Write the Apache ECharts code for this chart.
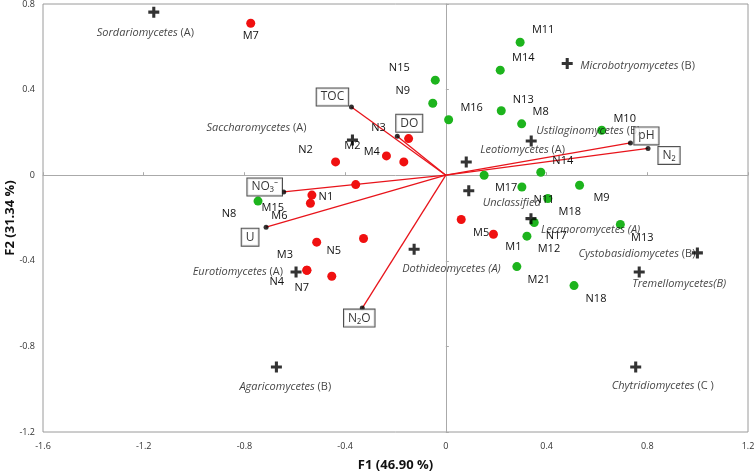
<!DOCTYPE html>
<html>
<head>
<meta charset="utf-8">
<script src="https://cdn.jsdelivr.net/npm/echarts@6/dist/echarts.min.js"></script>
<style>
  html, body { margin: 0; padding: 0; background: #fff; }
  #chart { width: 754px; height: 473px; }
</style>
</head>
<body>
<div id="chart"></div>
<script>
// samples (observations) - red group
const redNames = ['M7', 'N2', 'N3', 'M2', 'M4', 'M15', 'N1', 'M6', 'N5', '', 'M3', 'N4', 'N7', 'M5', 'M1']
const redF1 = [-0.775, -0.438, -0.148, -0.236, -0.167, -0.358, -0.532, -0.538, -0.513, -0.327, -0.552, -0.552, -0.453, 0.061, 0.189]
const redF2 = [0.710, 0.062, 0.171, 0.090, 0.062, -0.044, -0.093, -0.131, -0.313, -0.296, -0.444, -0.444, -0.472, -0.207, -0.276]

// samples - green group
const greenNames = ['N8', 'N15', 'N9', 'M16', 'M11', 'M14', 'N13', 'M8', 'M10', 'M17', 'N14', 'N11', 'M9', 'M18', 'N17', 'M13', 'M12', 'M21', 'N18']
const greenF1 = [-0.746, -0.042, -0.052, 0.011, 0.295, 0.216, 0.220, 0.301, 0.619, 0.152, 0.377, 0.302, 0.531, 0.405, 0.351, 0.693, 0.322, 0.282, 0.509]
const greenF2 = [-0.121, 0.444, 0.336, 0.259, 0.621, 0.491, 0.301, 0.240, 0.210, 0.000, 0.014, -0.055, -0.047, -0.109, -0.221, -0.230, -0.285, -0.427, -0.516]

// fungal classes (supplementary)
const taxaNames = ['Sordariomycetes|(A)', 'Saccharomycetes|(A)', 'Microbotryomycetes|(B)', 'Ustilaginomycetes|(B)',
  'Leotiomycetes|(A)', 'Unclassified|', 'Lecanoromycetes (A)|', 'Dothideomycetes (A)|', 'Cystobasidiomycetes|(B)',
  'Tremellomycetes(B)|', 'Chytridiomycetes|(C )', 'Agaricomycetes|(B)', 'Eurotiomycetes|(A)']
const taxaF1 = [-1.160, -0.371, 0.482, 0.339, 0.081, 0.091, 0.338, -0.126, 0.999, 0.768, 0.754, -0.673, -0.595]
const taxaF2 = [0.762, 0.164, 0.522, 0.160, 0.062, -0.073, -0.203, -0.346, -0.363, -0.452, -0.896, -0.896, -0.452]

// environmental variables (vectors)
const varNames = ['TOC', 'DO', 'pH', 'N₂', 'NO₃⁻', 'U', 'N₂O']
const varF1 = [-0.375, -0.193, 0.733, 0.803, -0.644, -0.714, -0.332]
const varF2 = [0.319, 0.182, 0.151, 0.125, -0.078, -0.243, -0.621]

// label placement (pixels from the point)
const sampleLabelOffset = {
  M7: [0, 13], N2: [-30, -12], N3: [-30, -11], M2: [-34, -10], M4: [-32, -10], M15: [-83, 23],
  N1: [14, 2], M6: [-31, 13], N5: [17, 9], M3: [-22, -15], N4: [-30, 12], N7: [-30, 12],
  M5: [20, 13], M1: [20, 13],
  N8: [-29, 13], N15: [-36, -12], N9: [-30, -12], M16: [23, -12], M11: [23, -12], M14: [23, -12],
  N13: [22, -11], M8: [19, -12], M10: [23, -11], N14: [22, -11]
}
const taxaLabelOffset = [[-57, 21], [-146, -12], [13, 2], [5, -10], [14, -12], [14, 12], [10, 11],
  [-12, 20], [-2, 1, 'right'], [-7, 12], [-24, 19], [-37, 20], [-13, 0, 'right']]
const varLabelOffset = [[-19, -10], [12, -13], [16, -7], [21, 7], [-19, -5], [-16, 10], [-3, 10]]

const FONT = '"Open Sans", "Noto Sans", sans-serif'
const chart = echarts.init(document.getElementById('chart'))

const sampleSeries = (names, f1, f2, color) => ({
  type: 'scatter',
  symbolSize: 9,
  itemStyle: { color, opacity: 1 },
  z: 3,
  data: names.map((n, i) => {
    const off = sampleLabelOffset[n] || [22, 13]
    return {
      value: [f1[i], f2[i]],
      label: { show: n !== '', position: 'inside', offset: off, formatter: n }
    }
  }),
  label: { color: '#111', fontSize: 11, fontFamily: FONT }
})

const plus = 'path://M3.6,0h2.8v3.6h3.6v2.8h-3.6v3.6h-2.8v-3.6h-3.6v-2.8h3.6z'

const series = []
varNames.forEach((n, i) => {
  series.push({
    type: 'line',
    symbol: 'none',
    silent: true,
    lineStyle: { color: '#e8141b', width: 1.3 },
    z: 1,
    data: [[0, 0], [varF1[i], varF2[i]]]
  })
})
series.push(sampleSeries(redNames, redF1, redF2, '#f01010'))
series.push(sampleSeries(greenNames, greenF1, greenF2, '#1db41d'))
series.push({
  type: 'scatter',
  symbol: plus,
  symbolSize: 11,
  itemStyle: { color: '#000' },
  z: 4,
  data: taxaNames.map((n, i) => {
    const o = taxaLabelOffset[i]
    const [it, nm] = n.split('|')
    return {
      value: [taxaF1[i], taxaF2[i]],
      label: {
        show: true, position: 'inside', align: o[2] || 'left', offset: [o[0], o[1]],
        formatter: nm ? `{i|${it}} {n|${nm}}` : `{i|${it}}`
      }
    }
  }),
  label: {
    fontFamily: FONT, fontSize: 11, color: '#111',
    rich: {
      i: { fontStyle: 'italic', fontFamily: FONT, fontSize: 11, color: '#111' },
      n: { fontFamily: FONT, fontSize: 11, color: '#111' }
    }
  }
})
series.push({
  type: 'scatter',
  symbolSize: 5,
  itemStyle: { color: '#000' },
  z: 5,
  data: varNames.map((n, i) => ({
    value: [varF1[i], varF2[i]],
    label: { show: true, position: 'inside', offset: varLabelOffset[i], formatter: n }
  })),
  label: {
    fontFamily: FONT, fontSize: 12, color: '#000',
    backgroundColor: '#fff', borderColor: '#222', borderWidth: 1, padding: [3, 4, 2, 4]
  }
})

const fmt = v => String(+v.toFixed(1))

chart.setOption({
  animation: false,
  grid: {
    left: 43, right: 6, top: 4, bottom: 41, show: true, borderColor: '#9a9a9a', borderWidth: 1,
    containLabel: false, outerBoundsMode: 'none'
  },
  xAxis: [
    {
      type: 'value', min: -1.6, max: 1.2, interval: 0.4,
      name: 'F1 (46.90 %)', nameLocation: 'middle', nameGap: 27, nameMoveOverlap: false,
      nameTextStyle: { fontFamily: FONT, fontWeight: 'bold', fontSize: 13, color: '#111' },
      axisLine: { show: false, onZero: false }, axisTick: { show: false }, splitLine: { show: false },
      axisLabel: { formatter: fmt, fontSize: 9, color: '#333', margin: 10, fontFamily: FONT }
    },
    {
      type: 'value', min: -1.6, max: 1.2, interval: 0.4, position: 'top',
      axisLine: { onZero: true, lineStyle: { color: '#aaa', width: 1 } },
      axisTick: { show: true, length: 3, lineStyle: { color: '#aaa' } },
      axisLabel: { show: false }, splitLine: { show: false }
    }
  ],
  yAxis: [
    {
      type: 'value', min: -1.2, max: 0.8, interval: 0.4,
      name: 'F2 (31.34 %)', nameLocation: 'middle', nameGap: 26, nameRotate: 90, nameMoveOverlap: false,
      nameTextStyle: { fontFamily: FONT, fontWeight: 'bold', fontSize: 13, color: '#111' },
      axisLine: { show: false, onZero: false }, axisTick: { show: false }, splitLine: { show: false },
      axisLabel: { formatter: fmt, fontSize: 9, color: '#333', margin: 8, fontFamily: FONT }
    },
    {
      type: 'value', min: -1.2, max: 0.8, interval: 0.4, position: 'right',
      axisLine: { onZero: true, lineStyle: { color: '#aaa', width: 1 } },
      axisTick: { show: true, length: 3, lineStyle: { color: '#aaa' } },
      axisLabel: { show: false }, splitLine: { show: false }
    }
  ],
  series
})
</script>
</body>
</html>
